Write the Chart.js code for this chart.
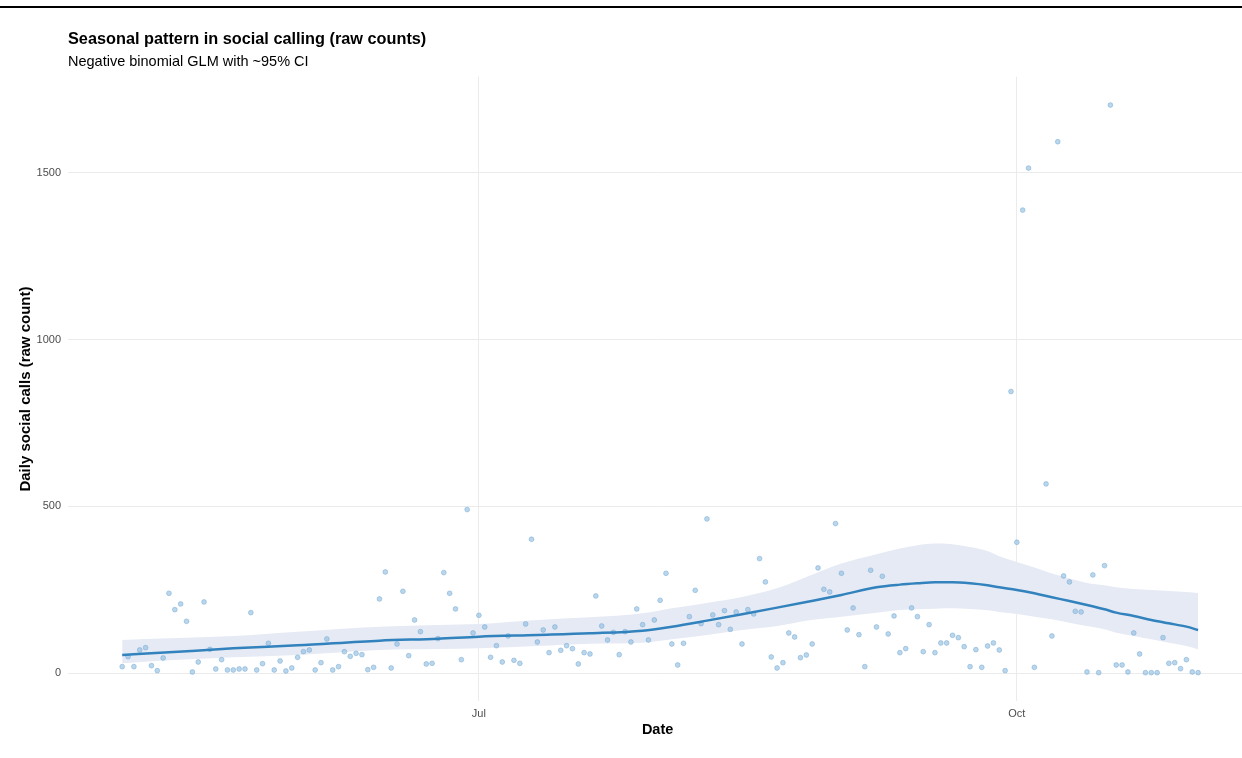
<!DOCTYPE html>
<html>
<head>
<meta charset="utf-8">
<script src="https://cdn.jsdelivr.net/npm/chart.js@4"></script>
<style>
  html, body { margin: 0; padding: 0; background: #ffffff; overflow: hidden; }
  #frame { position: relative; width: 1242px; height: 758px; overflow: hidden; background: #fff; }
  #topRule { position: absolute; left: 0; top: 6px; width: 1242px; height: 2px; background: #000; z-index: 2; }
  #chart { position: absolute; left: 0; top: 0; }
</style>
</head>
<body>
<div id="frame">
  <div id="topRule"></div>
  <canvas id="chart" width="1252" height="758"></canvas>
</div>
<script>
// Days are counted from 1 May; one observation per day (5 Oct has no record).
const calls = [
  19, 49, 19, 69, 76, 22, 7, 45, 239, 190,
  207, 155, 3, 33, 213, 71, 12, 40, 9, 9,
  12, 12, 181, 9, 28, 89, 9, 36, 6, 15,
  47, 64, 69, 9, 31, 102, 9, 19, 64, 50,
  59, 55, 10, 17, 222, 303, 15, 87, 245, 52,
  159, 124, 27, 29, 103, 301, 239, 192, 40, 490,
  120, 173, 138, 47, 82, 33, 111, 38, 29, 147,
  401, 93, 129, 61, 138, 68, 82, 73, 27, 61,
  57, 231, 141, 99, 122, 55, 124, 93, 192, 145,
  99, 159, 218, 299, 87, 24, 89, 169, 248, 148,
  462, 174, 145, 187, 131, 183, 87, 190, 177, 343,
  273, 48, 15, 31, 120, 108, 46, 54, 87, 315,
  251, 243, 448, 299, 129, 195, 115, 19, 308, 138,
  290, 117, 171, 61, 73, 195, 169, 64, 145, 61,
  90, 90, 113, 106, 79, 19, 70, 17, 81, 90,
  69, 7, 844, 392, 1388, 1514, 17, null, 567, 111,
  1593, 291, 273, 185, 183, 3, 294, 1, 322, 1703,
  24, 24, 3, 120, 57, 1, 1, 1, 106, 29,
  31, 13, 40, 3, 1
];

// Fitted negative binomial curve and its ~95% interval, by day
const fitDays  = [0, 8, 19, 30, 44, 54, 61, 71, 80, 89, 94, 100, 106, 112, 117, 123, 129, 133, 136, 139, 142, 145, 148, 150, 153, 156, 159, 162, 165, 168, 170, 173, 176, 179, 182, 184];
const fitMean  = [54, 62, 74, 83, 97, 103, 109, 114, 119, 127, 139, 157, 176, 196, 213, 234, 257, 265, 269, 272, 272, 269, 263, 257, 249, 239, 227, 216, 204, 191, 181, 171, 159, 149, 139, 129];
const fitUpper = [99, 104, 111, 124, 139, 144, 147, 159, 167, 179, 194, 210, 228, 254, 288, 328, 356, 373, 383, 388, 386, 378, 366, 350, 333, 316, 298, 283, 270, 263, 257, 252, 249, 246, 243, 240];
const fitLower = [29, 38, 47, 54, 69, 72, 74, 81, 88, 91, 101, 114, 129, 141, 157, 169, 181, 189, 191, 193, 194, 192, 188, 183, 177, 169, 161, 151, 141, 131, 121, 111, 101, 91, 81, 71];

// Axis ticks
const monthTickDays = [61, 153];
const monthTickLabels = ['Jul', 'Oct'];
const countTicks = [0, 500, 1000, 1500];

const pts = (xs, ys) => xs.map((x, i) => ({ x: x, y: ys[i] }));
const callPoints = calls.map((v, i) => (v === null ? null : { x: i, y: v })).filter(p => p !== null);

const maxCount = Math.max(...calls.filter(v => v !== null));
const yPad = maxCount * 0.05;

const FONT = "'Liberation Sans', Arial, sans-serif";

new Chart(document.getElementById('chart'), {
  type: 'scatter',
  data: {
    datasets: [
      {
        label: 'fit',
        data: pts(fitDays, fitMean),
        showLine: true,
        borderColor: '#3182bd',
        borderWidth: 2.5,
        pointRadius: 0,
        fill: false,
        cubicInterpolationMode: 'monotone',
        order: 0
      },
      {
        label: 'calls',
        data: callPoints,
        showLine: false,
        pointRadius: 2.4,
        pointBorderWidth: 0.8,
        backgroundColor: 'rgba(140,186,222,0.6)',
        borderColor: 'rgba(110,165,210,0.6)',
        order: 1
      },
      {
        label: 'upper',
        data: pts(fitDays, fitUpper),
        showLine: true,
        borderWidth: 0,
        borderColor: 'rgba(0,0,0,0)',
        backgroundColor: '#e6eaf4',
        pointRadius: 0,
        fill: '+1',
        cubicInterpolationMode: 'monotone',
        order: 2
      },
      {
        label: 'lower',
        data: pts(fitDays, fitLower),
        showLine: true,
        borderWidth: 0,
        borderColor: 'rgba(0,0,0,0)',
        pointRadius: 0,
        fill: false,
        cubicInterpolationMode: 'monotone',
        order: 3
      }
    ]
  },
  options: {
    responsive: false,
    animation: false,
    events: [],
    layout: { padding: 0 },
    plugins: {
      legend: { display: false },
      tooltip: { enabled: false },
      title: {
        display: true,
        text: 'Seasonal pattern in social calling (raw counts)',
        align: 'start',
        fullSize: false,
        color: '#000',
        font: { family: FONT, size: 16.3, weight: 'bold' },
        padding: { top: 30.2, bottom: 3.7 }
      },
      subtitle: {
        display: true,
        text: 'Negative binomial GLM with ~95% CI',
        align: 'start',
        fullSize: false,
        color: '#000',
        font: { family: FONT, size: 14.5 },
        padding: { top: 0, bottom: 5.8 }
      }
    },
    scales: {
      x: {
        type: 'linear',
        min: -9.27,
        max: 192.4,
        border: { display: false },
        grid: { color: '#ebebeb', lineWidth: 1, drawTicks: false },
        afterBuildTicks: s => { s.ticks = monthTickDays.map(v => ({ value: v })); },
        afterFit: s => { s.height = 56.6; },
        ticks: {
          padding: 6,
          color: '#4d4d4d',
          font: { family: FONT, size: 11 },
          maxRotation: 0,
          autoSkip: false,
          callback: v => monthTickLabels[monthTickDays.indexOf(v)]
        },
        title: {
          display: true,
          text: 'Date',
          color: '#000',
          font: { family: FONT, size: 14.5, weight: 'bold' },
          padding: { top: 0, bottom: 19.3 }
        }
      },
      y: {
        type: 'linear',
        min: -yPad,
        max: maxCount + yPad,
        border: { display: false },
        grid: { color: '#ebebeb', lineWidth: 1, drawTicks: false },
        afterBuildTicks: s => { s.ticks = countTicks.map(v => ({ value: v })); },
        afterFit: s => { s.width = 68; },
        ticks: {
          padding: 7,
          color: '#4d4d4d',
          font: { family: FONT, size: 11 },
          callback: v => String(v)
        },
        title: {
          display: true,
          text: 'Daily social calls (raw count)',
          color: '#000',
          font: { family: FONT, size: 15, weight: 'bold' },
          padding: { top: 17, bottom: 0 }
        }
      }
    }
  }
});
</script>
</body>
</html>
